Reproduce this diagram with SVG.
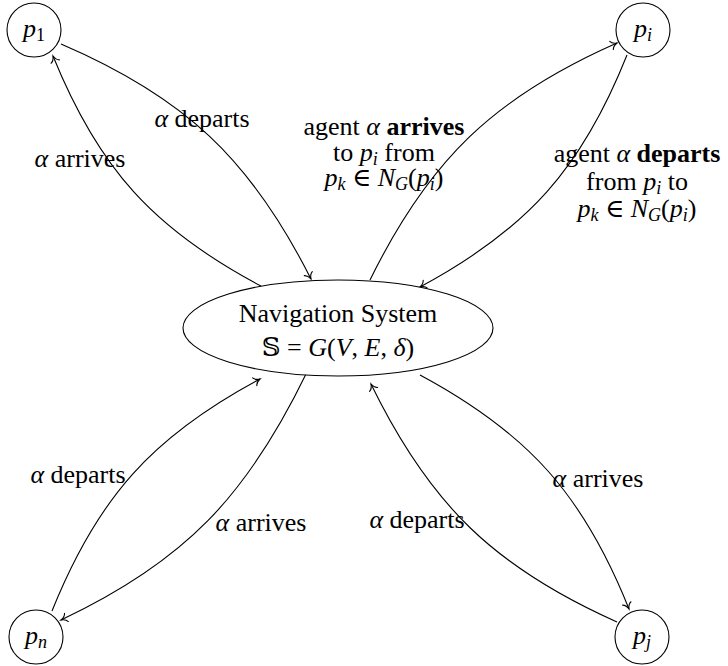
<svg xmlns="http://www.w3.org/2000/svg" width="728" height="666" viewBox="0 0 728 666" font-family="'Liberation Serif', 'Times New Roman', Times, 'DejaVu Serif', serif">
  <style>
    .node { fill: #fff; stroke: #000; stroke-width: 1.1; }
    .edge { fill: none; stroke: #000; stroke-width: 1.1; marker-end: url(#to); }
    text { font-family: 'Liberation Serif', 'Times New Roman', Times, 'DejaVu Serif', serif; font-size: 26px; fill: #000; }
    .c { text-anchor: middle; }
    .m { font-style: italic; }
    .b { font-weight: bold; }
    .sub { font-size: 18px; }
    .ds { font-family: 'DejaVu Serif', 'DejaVu Sans', serif; font-style: normal; }
  </style>
  <defs>
    <marker id="to" viewBox="-8 -6 10 12" markerWidth="10" markerHeight="12" refX="0" refY="0" orient="auto" markerUnits="userSpaceOnUse">
      <path d="M-6,-4.5 C-5,-1.8 -1.5,-0.4 0,0 C-1.5,0.4 -5,1.8 -6,4.5" fill="none" stroke="#000" stroke-width="1.1" stroke-linecap="round"/>
    </marker>
  </defs>

  <!-- connectors -->
  <g id="connectors">
    <path class="edge" d="M61,44 C184.5,97 250.5,159 311,279"/>
    <path class="edge" d="M261,286 C153.6,229.3 98.6,168.5 53,56"/>
    <path class="edge" d="M370,280 C429.1,159.7 494.3,97.1 617,43"/>
    <path class="edge" d="M627,55 C581.9,168.2 527.3,229.4 420,287"/>
    <path class="edge" d="M52,611 C97.5,497.7 152.3,436.5 260,379"/>
    <path class="edge" d="M307,372 C247,496 184.7,561.8 61,620"/>
    <path class="edge" d="M420,375 C528.2,433.1 583.4,494.9 629,609"/>
    <path class="edge" d="M617,622 C494.5,567.4 429.7,504.6 371,384"/>
  </g>

  <!-- edge labels -->
  <g id="edge-labels">
    <text class="c" x="202" y="127"><tspan class="m">α</tspan> departs</text>
    <text class="c" x="80" y="167"><tspan class="m">α</tspan> arrives</text>
    <text class="c" x="384" y="135">agent <tspan class="m">α</tspan> <tspan class="b">arrives</tspan></text>
    <text class="c" x="384" y="161">to <tspan class="m">p</tspan><tspan class="sub m" dy="4">i</tspan><tspan dy="-4"> from</tspan></text>
    <text class="c" x="384" y="186"><tspan class="m">p</tspan><tspan class="sub m" dy="4">k</tspan><tspan dy="-4"> ∈ </tspan><tspan class="m">N</tspan><tspan class="sub m" dy="4">G</tspan><tspan dy="-4">(</tspan><tspan class="m">p</tspan><tspan class="sub m" dy="4">i</tspan><tspan dy="-4">)</tspan></text>
    <text class="c" x="637" y="162">agent <tspan class="m">α</tspan> <tspan class="b">departs</tspan></text>
    <text class="c" x="637" y="190">from <tspan class="m">p</tspan><tspan class="sub m" dy="4">i</tspan><tspan dy="-4"> to</tspan></text>
    <text class="c" x="637" y="217"><tspan class="m">p</tspan><tspan class="sub m" dy="4">k</tspan><tspan dy="-4"> ∈ </tspan><tspan class="m">N</tspan><tspan class="sub m" dy="4">G</tspan><tspan dy="-4">(</tspan><tspan class="m">p</tspan><tspan class="sub m" dy="4">i</tspan><tspan dy="-4">)</tspan></text>
    <text class="c" x="78" y="483"><tspan class="m">α</tspan> departs</text>
    <text class="c" x="261" y="531"><tspan class="m">α</tspan> arrives</text>
    <text class="c" x="417" y="528"><tspan class="m">α</tspan> departs</text>
    <text class="c" x="598" y="487"><tspan class="m">α</tspan> arrives</text>
  </g>

  <!-- central system node -->
  <g id="system">
    <ellipse class="node" cx="338" cy="328" rx="155" ry="48"/>
    <text class="c" x="338" y="322">Navigation System</text>
    <text class="c" x="338" y="356"><tspan class="ds">𝕊</tspan> = <tspan class="m">G</tspan>(<tspan class="m">V</tspan>, <tspan class="m">E</tspan>, <tspan class="m">δ</tspan>)</text>
  </g>

  <!-- place nodes -->
  <g id="p1">
    <circle class="node" cx="34" cy="30" r="27"/>
    <text class="c" x="34" y="37"><tspan class="m">p</tspan><tspan class="sub" dy="4">1</tspan></text>
  </g>
  <g id="pi">
    <circle class="node" cx="643" cy="30" r="27"/>
    <text class="c" x="643" y="37"><tspan class="m">p</tspan><tspan class="sub m" dy="4">i</tspan></text>
  </g>
  <g id="pn">
    <circle class="node" cx="36" cy="637" r="27"/>
    <text class="c" x="36" y="644"><tspan class="m">p</tspan><tspan class="sub m" dy="4">n</tspan></text>
  </g>
  <g id="pj">
    <circle class="node" cx="642" cy="637" r="27"/>
    <text class="c" x="642" y="644"><tspan class="m">p</tspan><tspan class="sub m" dy="4">j</tspan></text>
  </g>
</svg>
